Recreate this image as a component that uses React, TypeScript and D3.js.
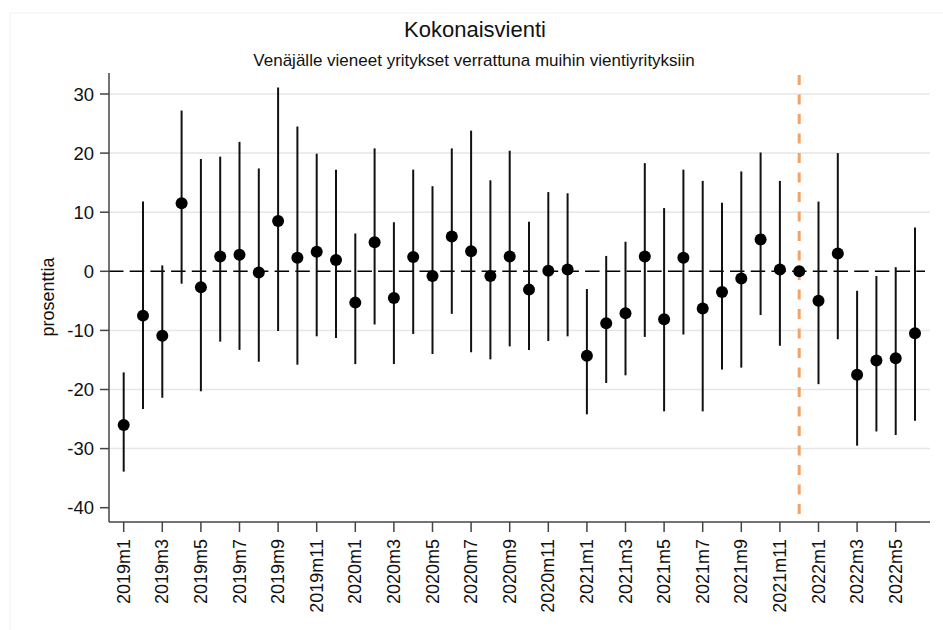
import React from "react";
import * as d3 from "d3";

const months = [
  "2019m1","2019m2","2019m3","2019m4","2019m5","2019m6","2019m7","2019m8","2019m9","2019m10","2019m11","2019m12",
  "2020m1","2020m2","2020m3","2020m4","2020m5","2020m6","2020m7","2020m8","2020m9","2020m10","2020m11","2020m12",
  "2021m1","2021m2","2021m3","2021m4","2021m5","2021m6","2021m7","2021m8","2021m9","2021m10","2021m11","2021m12",
  "2022m1","2022m2","2022m3","2022m4","2022m5","2022m6",
];

const estimate = [
  -26.0, -7.5, -10.9, 11.5, -2.7, 2.5, 2.8, -0.2, 8.5, 2.3, 3.3, 1.9,
  -5.3, 4.9, -4.5, 2.4, -0.8, 5.9, 3.4, -0.8, 2.5, -3.1, 0.1, 0.3,
  -14.3, -8.8, -7.1, 2.5, -8.1, 2.3, -6.3, -3.5, -1.2, 5.4, 0.3, 0.0,
  -5.0, 3.0, -17.5, -15.1, -14.7, -10.5,
];

const ciUpper = [
  -17.1, 11.8, 1.0, 27.2, 19.0, 19.4, 21.9, 17.4, 31.1, 24.5, 19.9, 17.2,
  6.4, 20.8, 8.3, 17.2, 14.4, 20.8, 23.8, 15.4, 20.4, 8.4, 13.4, 13.2,
  -3.0, 2.6, 5.0, 18.3, 10.7, 17.2, 15.3, 11.6, 16.9, 20.1, 15.3, null,
  11.8, 20.0, -3.3, -0.8, 0.7, 7.4,
];

const ciLower = [
  -33.9, -23.3, -21.4, -2.1, -20.3, -11.9, -13.3, -15.3, -10.1, -15.8, -11.0, -11.3,
  -15.7, -9.0, -15.7, -10.6, -14.0, -7.2, -13.7, -14.9, -12.7, -13.3, -11.8, -11.0,
  -24.2, -18.9, -17.6, -11.1, -23.7, -10.7, -23.7, -16.6, -16.3, -7.4, -12.6, null,
  -19.1, -11.5, -29.5, -27.1, -27.7, -25.3,
];

const yTicks = [30, 20, 10, 0, -10, -20, -30, -40];
const gridValues = [30, 20, 10, -10, -20, -30];
const tickIndices = [0, 2, 4, 6, 8, 10, 12, 14, 16, 18, 20, 22, 24, 26, 28, 30, 32, 34, 36, 38, 40];
const referenceMonth = "2021m12";

const title = "Kokonaisvienti";
const subtitle = "Venäjälle vieneet yritykset verrattuna muihin vientiyrityksiin";
const yLabel = "prosenttia";

export default function App() {
  const W = 943, H = 630;
  const left = 109, right = 930, top = 73, bottom = 522;
  const x = d3.scaleLinear().domain([0, months.length - 1]).range([123.7, 915]);
  const y = d3.scaleLinear().domain([-40, 30]).range([507.7, 94]);
  const font = "'Liberation Sans', Arial, Helvetica, sans-serif";
  const axisColor = "#444";
  const refX = x(months.indexOf(referenceMonth));

  return (
    <svg width={W} height={H} style={{ position: "absolute", left: 0, top: 0, background: "#fff" }} fontFamily={font}>
      <rect x={0} y={0} width={W} height={H} fill="#fff" />
      <rect x={10} y={13} width={W} height={H} fill="none" stroke="#f2f2f2" strokeWidth={1} />
      <text x={475} y={37} textAnchor="middle" fontSize={22} fill="#111">{title}</text>
      <text x={474} y={66} textAnchor="middle" fontSize={17} fill="#111">{subtitle}</text>

      {gridValues.map((v) => (
        <line key={"g" + v} x1={left} x2={right} y1={y(v)} y2={y(v)} stroke="#e6e6e6" strokeWidth={1.5} />
      ))}

      <line x1={left} x2={925} y1={y(0)} y2={y(0)} stroke="#000" strokeWidth={1.6} strokeDasharray="14.5,6.2" />

      <line x1={refX} x2={refX} y1={75} y2={bottom} stroke="#f5a262" strokeWidth={3} strokeDasharray="10,9.5" />

      {months.map((m, i) =>
        ciUpper[i] !== null && ciLower[i] !== null ? (
          <line key={"ci" + m} x1={x(i)} x2={x(i)} y1={y(ciUpper[i] as number)} y2={y(ciLower[i] as number)} stroke="#111" strokeWidth={2} />
        ) : null
      )}
      {months.map((m, i) => (
        <circle key={"p" + m} cx={x(i)} cy={y(estimate[i])} r={6} fill="#000" />
      ))}

      <line x1={left} x2={left} y1={top} y2={bottom} stroke={axisColor} strokeWidth={1.5} />
      <line x1={left} x2={right} y1={bottom} y2={bottom} stroke={axisColor} strokeWidth={1.5} />

      {yTicks.map((v) => (
        <g key={"yt" + v}>
          <line x1={left - 9} x2={left} y1={y(v)} y2={y(v)} stroke={axisColor} strokeWidth={1.5} />
          <text x={94} y={y(v)} textAnchor="end" dominantBaseline="central" fontSize={18.5} fill="#111">{v}</text>
        </g>
      ))}

      {tickIndices.map((i) => (
        <g key={"xt" + i}>
          <line x1={x(i)} x2={x(i)} y1={bottom} y2={bottom + 10} stroke={axisColor} strokeWidth={1.5} />
          <text
            transform={`translate(${x(i)},539) rotate(-90)`}
            textAnchor="end"
            dominantBaseline="central"
            fontSize={18}
            fill="#111"
          >
            {months[i]}
          </text>
        </g>
      ))}

      <text transform={`translate(48,297) rotate(-90)`} textAnchor="middle" dominantBaseline="central" fontSize={18} fill="#111">
        {yLabel}
      </text>
    </svg>
  );
}
